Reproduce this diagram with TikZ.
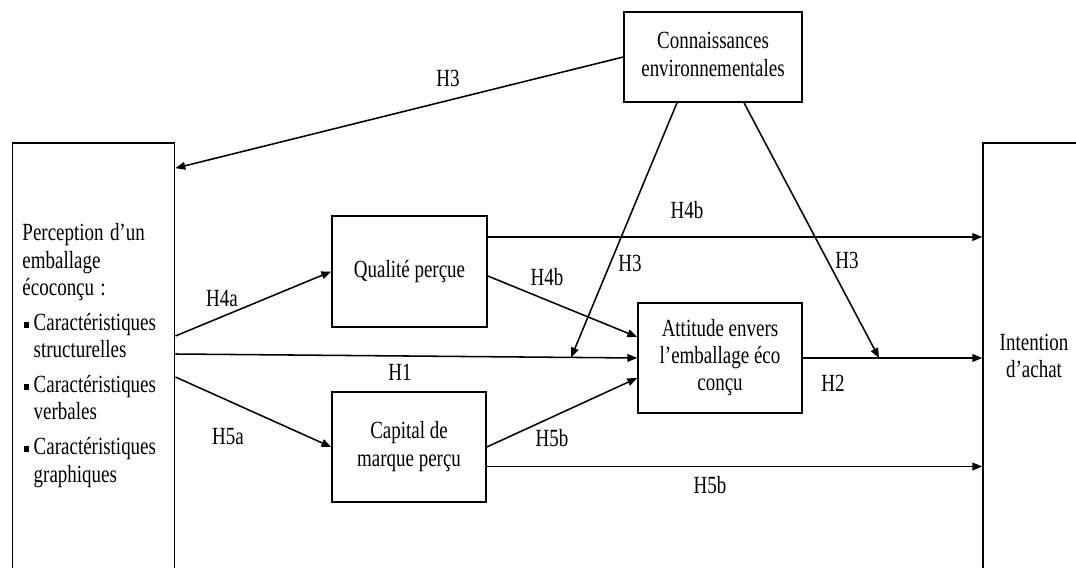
\documentclass[tikz,border=0pt]{standalone}
\usepackage{graphicx}
\usepackage{fontspec}
\setmainfont{Liberation Serif}
\usetikzlibrary{arrows.meta,calc}

% the source text is set tall and narrow
\newcommand{\tall}[1]{\scalebox{1}[1.3]{#1}}
\newcommand{\tallbox}[2][c]{\scalebox{1}[1.3]{\begin{tabular}{@{}#1@{}}#2\end{tabular}}}
\newcommand{\blt}{\makebox[8pt][l]{\hspace{1.2pt}\rule[0.25ex]{3.4pt}{3pt}}}

\tikzset{
  box/.style={draw, line width=1.1pt, align=center, inner sep=0pt},
  hyp/.style={inner sep=1pt},
}

\begin{document}
\begin{tikzpicture}[x=0.025cm,y=0.025cm,
  font=\fontsize{13.5pt}{15pt}\selectfont,
  >={Triangle[length=7pt,width=5.5pt]}, line width=1.1pt]
\useasboundingbox (0,0) rectangle (1076,567);
\clip (0,0) rectangle (1076,567);

% boxes
\node [box, minimum width=4.45cm, minimum height=2.25cm] (conn) at (713,510)
  {\tallbox{Connaissances\\environnementales}};
\node [box, align=left, text width=101pt, inner xsep=7.2pt,
  minimum height=10.65cm] (percep) at (93.5,211)
  {\tallbox[l]{Perception d'un\\emballage\\écoconçu :\\[4pt]
   \blt Caractéristiques\\\hspace*{8pt}structurelles\\[4pt]
   \blt Caractéristiques\\\hspace*{8pt}verbales\\[4pt]
   \blt Caractéristiques\\\hspace*{8pt}graphiques}};
\node [box, minimum width=3.875cm, minimum height=2.775cm] (qual) at (409.5,295.5)
  {\tall{Qualité perçue}};
\node [box, minimum width=3.85cm, minimum height=2.75cm] (cap) at (409,120)
  {\tallbox{Capital de\\marque perçu}};
\node [box, minimum width=4.1cm, minimum height=2.75cm] (att) at (720,209)
  {\tallbox{Attitude envers\\l’emballage éco\\conçu}};
\node [box, minimum width=2.55cm, minimum height=10.775cm] (intent) at (1034,208.5)
  {\tallbox{Intention\\d’achat}};

% helper points
\coordinate (qTop) at ($(qual.east)+(0,34.5)$);
\coordinate (capLow) at ($(cap.east)+(0,-19.5)$);

% links
\draw[->] ($(percep.east)+(0,20)$) -- (qual.west);
\draw[->] ($(percep.east)+(0,2)$) -- (att.west) coordinate[pos=0.857] (hOne);
\draw[->] ($(percep.east)+(0,-21)$) -- (cap.west);
\draw[->] ($(qual.east)+(0,-4.5)$) -- ($(att.west)+(0,21)$);
\draw[->] (qTop) -- (qTop -| intent.west);
\draw[->] (cap.east) -- ($(att.west)+(0,-20)$);
\draw[->] (capLow) -- (capLow -| intent.west);
\draw[->] (att.east) -- (att.east -| intent.west) coordinate[pos=0.425] (hTwo);
\draw[->] (conn.west) -- ($(percep.north east)+(0,-26)$);
\draw[->] ($(conn.south)+(-36,0)$) -- (hOne);
\draw[->] ($(conn.south)+(31,0)$) -- (hTwo);

% hypotheses
\node [hyp] (lH3top) at (448,489) {\tall{H3}};
\node [hyp] (lH4bup) at (687,357) {\tall{H4b}};
\node [hyp] (lH3l) at (630,304) {\tall{H3}};
\node [hyp] (lH3r) at (847,307) {\tall{H3}};
\node [hyp] (lH4a) at (222,269) {\tall{H4a}};
\node [hyp] (lH4b) at (547,290) {\tall{H4b}};
\node [hyp] (lH1) at (400,195) {\tall{H1}};
\node [hyp] (lH2) at (833,184) {\tall{H2}};
\node [hyp] (lH5a) at (228,130) {\tall{H5a}};
\node [hyp] (lH5b) at (552,129) {\tall{H5b}};
\node [hyp] (lH5blow) at (710,82) {\tall{H5b}};

\end{tikzpicture}
\end{document}
